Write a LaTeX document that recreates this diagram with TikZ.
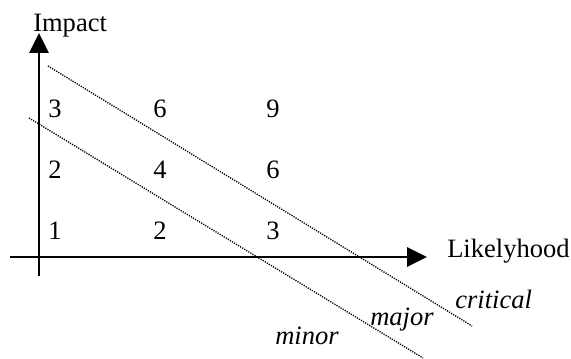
\documentclass[tikz,border=0pt]{standalone}
\usepackage{fontspec}
\setmainfont{Liberation Serif}
\usetikzlibrary{arrows.meta}
\begin{document}
\begin{tikzpicture}[x=0.75pt,y=-0.75pt,
  axis/.style={line width=1.5pt,-{Triangle[length=15pt,width=14.5pt]}},
  risk/.style={line width=1pt,dash pattern=on 0.9pt off 0.9pt},
  lbl/.style={font=\fontsize{19.9}{24}\selectfont,inner sep=0pt},
  num/.style={lbl,anchor=base},
  cat/.style={lbl,anchor=base west,font=\fontsize{19.9}{24}\selectfont\itshape}]
\useasboundingbox (0,0) rectangle (571,359);
% axes
\coordinate (vb) at (39,276);
\coordinate (vt) at (39,33);
\coordinate (hl) at (10,257);
\coordinate (hr) at (427,257);
\draw[axis] (vb) -- (vt);
\draw[axis] (hl) -- (hr);
\node[lbl,anchor=base west] (impact) at (33,32) {Impact};
\node[lbl,anchor=base west] (likely) at (447,258) {Likelyhood};
% risk lines
\coordinate (c1) at (48,66);
\coordinate (c2) at (472,326);
\coordinate (m1) at (29,118);
\coordinate (m2) at (423,358);
\draw[risk] (c1) -- (c2);
\draw[risk] (m1) -- (m2);
% numbers
\node[num] (n13) at (55,118) {3};
\node[num] (n23) at (160,118) {6};
\node[num] (n33) at (273,118) {9};
\node[num] (n12) at (55,179) {2};
\node[num] (n22) at (160,179) {4};
\node[num] (n32) at (273,179) {6};
\node[num] (n11) at (55,240) {1};
\node[num] (n21) at (160,240) {2};
\node[num] (n31) at (273,240) {3};
% categories
\node[cat] (critical) at (455,309) {critical};
\node[cat] (major) at (370,326) {major};
\node[cat] (minor) at (275,345) {minor};
\end{tikzpicture}
\end{document}
